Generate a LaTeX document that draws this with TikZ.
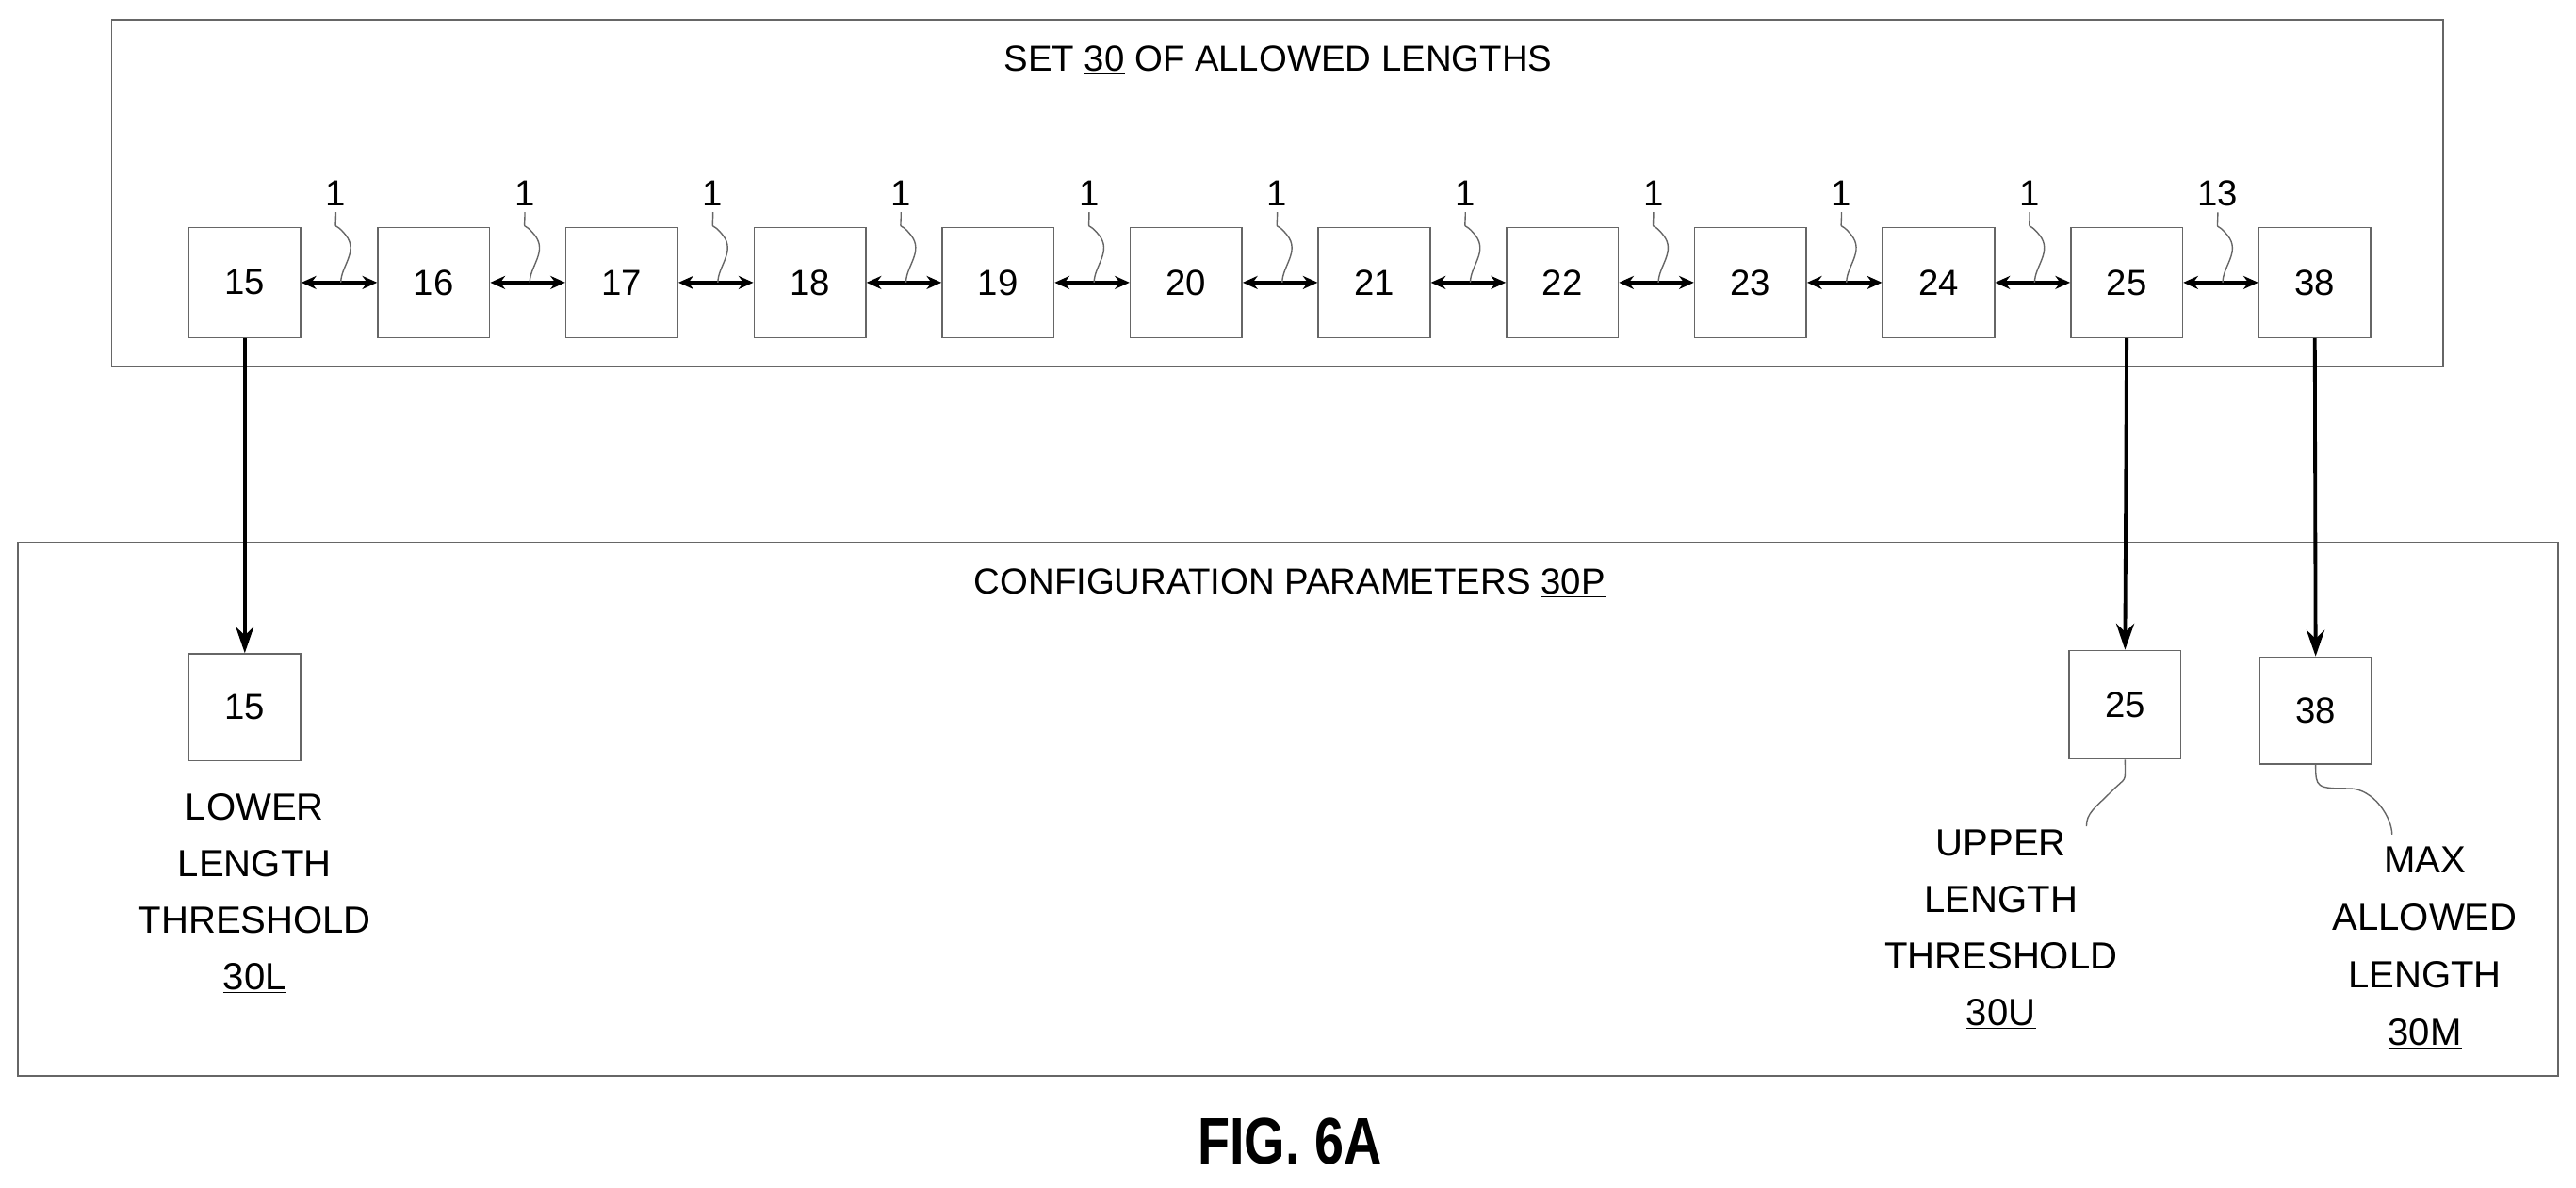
\documentclass[tikz,border=0pt]{standalone}
\usepackage{fontspec}
\setmainfont{Liberation Sans}
\usetikzlibrary{arrows.meta}
\begin{document}
\begin{tikzpicture}[x=1pt,y=-1pt,
  frame/.style={draw=black!60,line width=0.9pt},
  sbox/.style={draw=black!60,line width=0.9pt,minimum width=68pt,minimum height=67pt,inner sep=0pt,font=\fontsize{22}{24}\selectfont},
  lab/.style={font=\fontsize{22}{24}\selectfont},
  dbl/.style={{Stealth[length=9pt,width=8pt]}-{Stealth[length=9pt,width=8pt]},line width=2.2pt},
  arr/.style={-{Stealth[length=16pt,width=11pt]},line width=2.2pt},
  sq/.style={draw=black!60,line width=0.8pt}]
\useasboundingbox (0,0) rectangle (1568,723);
\node[frame,minimum width=1419pt,minimum height=211pt,inner sep=0pt] (top) at (777.5,117.5) {};
\node[lab] (ttl) at (778,37) {SET \underline{30} OF ALLOWED LENGTHS};
\node[frame,minimum width=1546pt,minimum height=325pt,inner sep=0pt] (bot) at (784,492.5) {};
\node[lab] (btl) at (785,355) {CONFIGURATION PARAMETERS \underline{30P}};
\foreach \v/\x [count=\i] in {15/149,16/264,17/378.5,18/493,19/607.5,20/722,21/836.5,22/951,23/1065.5,24/1180,25/1294.5,38/1409}
  \node[sbox] (b\i) at (\x,172) {\v};
\foreach \i/\l [evaluate=\i as \j using int(\i+1)] in {1/1,2/1,3/1,4/1,5/1,6/1,7/1,8/1,9/1,10/1,11/13}{
  \draw[dbl] (b\i.east) -- (b\j.west);
  \path (b\i.east) ++(21,-54) node[lab] (l\i) {\l};
  \path (b\i.east) ++(24,0) coordinate (e\i);
  \draw[sq] (l\i.south) .. controls ++(0,14) and ++(-8,-10) .. ++(6,14) .. controls ++(8,10) and ++(0,-10) .. (e\i);
}
\node[sbox,minimum height=65pt] (p15) at (149,430.5) {15};
\node[sbox,minimum height=66pt] (p25) at (1293.5,429) {25};
\node[sbox,minimum height=65pt] (p38) at (1409.5,432.5) {38};
\draw[arr] (b1.south) -- (p15.north);
\draw[arr] (b11.south) -- (p25.north);
\draw[arr] (b12.south) -- (p38.north);
\node[lab,align=center,font=\fontsize{23}{34.5}\selectfont] (t1) at (155,544) {LOWER\\LENGTH\\THRESHOLD\\\underline{30L}};
\node[lab,align=center,font=\fontsize{23}{34.5}\selectfont] (t2) at (1218,566) {UPPER\\LENGTH\\THRESHOLD\\\underline{30U}};
\node[lab,align=center,font=\fontsize{23}{35}\selectfont] (t3) at (1476,577) {MAX\\ALLOWED\\LENGTH\\\underline{30M}};
\draw[sq] (p25.south) .. controls ++(0,15) and ++(10,-10) .. (1285,482) .. controls ++(-10,10) and ++(0,-8) .. (1270,503);
\draw[sq] (p38.south) .. controls ++(0,14) and ++(-20,0) .. (1430,480) .. controls ++(15,0) and ++(0,-10) .. (1456,508);
\node[font=\bfseries\fontsize{40}{40}\selectfont] (fig) at (785,695) {\scalebox{0.8}[1]{FIG. 6A}};
\end{tikzpicture}
\end{document}
